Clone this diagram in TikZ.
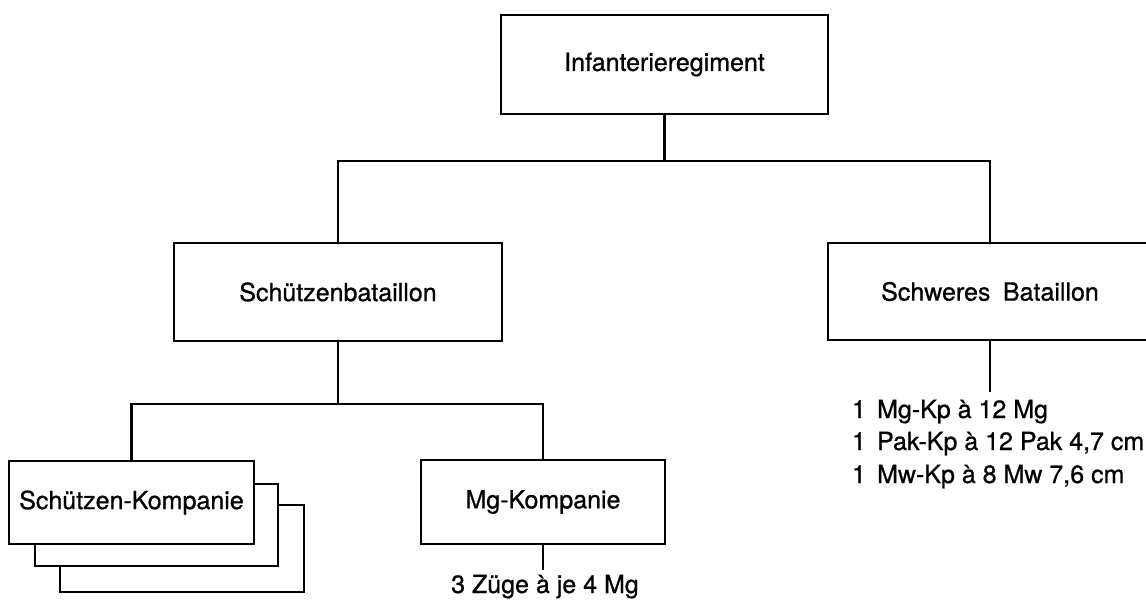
\documentclass[tikz,border=0pt]{standalone}
\usepackage{fontspec}
\setmainfont{TeX Gyre Heros}[FakeBold=0.8]
\begin{document}
\begin{tikzpicture}[x=1pt,y=-1pt,
  font=\fontsize{25}{30}\selectfont,
  line width=2.7pt,
  unitbox/.style={draw=black, fill=white, line width=2.7pt, inner sep=0pt, outer sep=0pt},
  plaintext/.style={inner sep=0pt, outer sep=0pt},
  link/.style={draw=black, line width=2.7pt}]
\useasboundingbox[fill=white] (0,0) rectangle (1146,601);

% boxes
\node[unitbox, minimum width=327pt, minimum height=99pt] (reg) at (664.5,64.5) {Infanterieregiment};
\node[unitbox, minimum width=328pt, minimum height=98pt] (sbat) at (338,292) {Schützenbataillon};
\node[unitbox, minimum width=324pt, minimum height=97pt] (schw) at (990,291.5) {Schweres\hspace{0.5em}Bataillon};

\node[unitbox, minimum width=244pt, minimum height=87pt] (sk3) at (182,548.5) {};
\node[unitbox, minimum width=243pt, minimum height=82pt] (sk2) at (156.5,525) {};
\node[unitbox, minimum width=245pt, minimum height=83pt] (sk1) at (131.5,502.5) {Schützen-Kompanie};
\node[unitbox, minimum width=244pt, minimum height=84pt] (mg) at (543,502) {Mg-Kompanie};

% texts
\node[plaintext, anchor=base west] (l1) at (852,418) {1\hspace{0.45em}Mg-Kp à 12 Mg};
\node[plaintext, anchor=base west] (l2) at (852,450) {1\hspace{0.45em}Pak-Kp à 12 Pak 4,7 cm};
\node[plaintext, anchor=base west] (l3) at (852,483) {1\hspace{0.45em}Mw-Kp à 8 Mw 7,6 cm};
\node[plaintext, anchor=base] (zuege) at (545,593) {3 Züge à je 4 Mg};

% junctions
\coordinate (j1) at (664.5,161);
\coordinate (j2) at (338,404);
\coordinate (c3) at (543,570);
\coordinate (c4) at (990,392);

% connectors
\draw[link] (reg.south) -- (j1);
\draw[link] (sbat.north) |- (j1) -| (schw.north);
\draw[link] (sbat.south) -- (j2);
\draw[link] (sk1.north) |- (j2) -| (mg.north);
\draw[link] (mg.south) -- (c3);
\draw[link] (schw.south) -- (c4);
\end{tikzpicture}
\end{document}
